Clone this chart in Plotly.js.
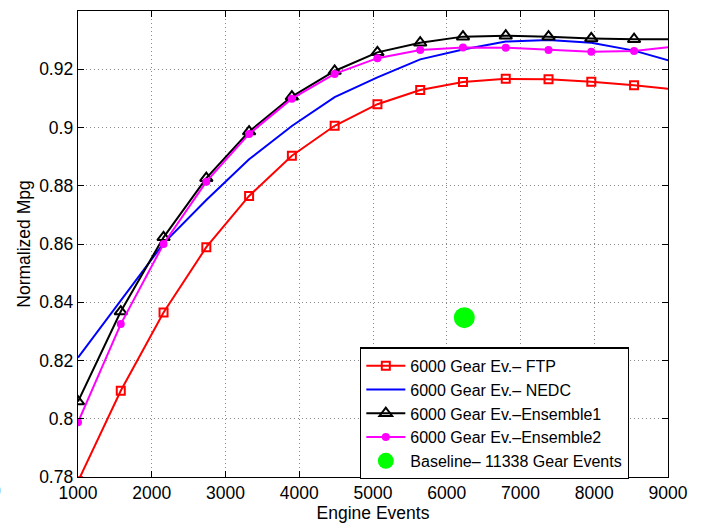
<!DOCTYPE html>
<html>
<head>
<meta charset="utf-8">
<script src="https://cdn.plot.ly/plotly-3.0.1.min.js"></script>
<style>html,body{margin:0;padding:0;background:#fff;}#chart{width:705px;height:523px;}</style>
</head>
<body>
<div id="chart"></div>
<script>
// Engine events (x) at which each series was evaluated
const engineEvents = [1000,1580,2160,2740,3320,3900,4480,5060,5640,6220,6800,7380,7960,8540,9120];
const ftp       = [0.7785,0.8096,0.8365,0.8589,0.8765,0.8903,0.9006,0.9080,0.9129,0.9156,0.9167,0.9166,0.9157,0.9145,0.9130];
const nedc      = [0.8210,0.8406,0.8602,0.8751,0.8891,0.9005,0.9104,0.9172,0.9234,0.9268,0.9295,0.9300,0.9291,0.9264,0.9222];
const ensemble1 = [0.8059,0.8368,0.8623,0.8826,0.8986,0.9106,0.9194,0.9258,0.9291,0.9312,0.9315,0.9312,0.9306,0.9303,0.9303];
const ensemble2 = [0.7988,0.8325,0.8600,0.8814,0.8978,0.9099,0.9184,0.9238,0.9266,0.9275,0.9274,0.9266,0.9260,0.9263,0.9279];
const baselineX = [6238];
const baselineY = [0.8347];
const seriesNames = ["6000 Gear Ev.\u2013 FTP","6000 Gear Ev.\u2013 NEDC","6000 Gear Ev.\u2013Ensemble1","6000 Gear Ev.\u2013Ensemble2","Baseline\u2013 11338 Gear Events"];
const xTicks = [1000,2000,3000,4000,5000,6000,7000,8000,9000];
const yTicks = [0.78,0.8,0.82,0.84,0.86,0.88,0.9,0.92];
const yTickText = ["0.78","0.8","0.82","0.84","0.86","0.88","0.9","0.92"];

const FONT = "Liberation Sans, Arial, Helvetica, sans-serif";

const traces = [
  {x: engineEvents, y: ftp, name: seriesNames[0], mode: "lines+markers",
   line: {color: "#ff0000", width: 2},
   marker: {symbol: "square-open", size: 8, color: "#ff0000", line: {width: 2, color: "#ff0000"}}},
  {x: engineEvents, y: nedc, name: seriesNames[1], mode: "lines",
   line: {color: "#0000ff", width: 2}},
  {x: engineEvents, y: ensemble1, name: seriesNames[2], mode: "lines+markers",
   line: {color: "#000000", width: 2},
   marker: {symbol: "triangle-up-open", size: 11, color: "#000000", line: {width: 2, color: "#000000"}}},
  {x: engineEvents, y: ensemble2, name: seriesNames[3], mode: "lines+markers",
   line: {color: "#ff00ff", width: 2},
   marker: {symbol: "circle", size: 8, color: "#ff00ff"}},
  {x: baselineX, y: baselineY, name: seriesNames[4], mode: "markers",
   marker: {symbol: "circle", size: 21, color: "#00ff00"}}
];

const axisCommon = {
  showline: true, linecolor: "#000", linewidth: 1.3, mirror: "ticks",
  ticks: "inside", ticklen: 6, tickwidth: 1, tickcolor: "#000",
  showgrid: true, gridcolor: "#8a8a8a", griddash: "1px,3px", gridwidth: 1,
  zeroline: false, tickfont: {family: FONT, size: 17.5, color: "#000"}
};

const layout = {
  width: 705, height: 523,
  margin: {l: 78, r: 37, t: 11, b: 46},
  paper_bgcolor: "#fff", plot_bgcolor: "#fff",
  font: {family: FONT, color: "#000"},
  showlegend: true,
  legend: {
    x: 0.478, y: 0.278, xanchor: "left", yanchor: "top",
    bgcolor: "#fff", bordercolor: "#000", borderwidth: 1.3,
    font: {family: FONT, size: 16, color: "#000"},
    itemsizing: "trace", itemwidth: 39, tracegroupgap: 0
  },
  xaxis: Object.assign({}, axisCommon, {
    range: [1000, 9000], tickvals: xTicks,
    title: {text: "Engine Events", font: {family: FONT, size: 17.5}, standoff: 2}
  }),
  yaxis: Object.assign({}, axisCommon, {
    range: [0.78, 0.94], tickvals: yTicks, ticktext: yTickText,
    title: {text: "Normalized Mpg", font: {family: FONT, size: 17.5}, standoff: 4}
  }),
  annotations: [
    {text: "0", xref: "paper", yref: "paper", x: -0.127, y: -0.03,
     xanchor: "right", yanchor: "middle", showarrow: false,
     font: {family: FONT, size: 17.5, color: "#000"}}
  ]
};

Plotly.newPlot("chart", traces, layout, {displayModeBar: false, staticPlot: true});
</script>
</body>
</html>
